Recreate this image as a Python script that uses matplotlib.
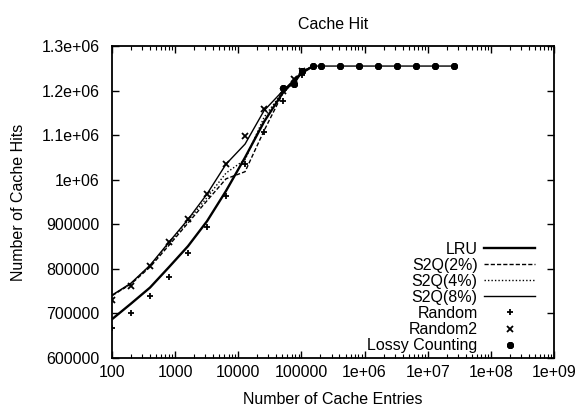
import matplotlib
matplotlib.use("Agg")
import matplotlib.pyplot as plt
from matplotlib.ticker import FixedLocator, LogLocator, NullFormatter

plt.rcParams['font.family'] = ['Liberation Sans', 'DejaVu Sans']

# ---- data ----
entries = [100, 200, 400, 800, 1600, 3200, 6400, 12800, 25600, 51200, 102400, 153600]
lru     = [687000, 722000, 758000, 804000, 851000, 907000, 975000, 1050000, 1130000, 1196000, 1240000, 1255000]
s2q2    = [740000, 766000, 804000, 853000, 903000, 953000, 1002000, 1018000, 1110000, 1195000, 1240000, 1255000]
s2q4    = [740000, 767000, 807000, 857000, 908000, 960000, 1015000, 1045000, 1140000, 1198000, 1240000, 1255000]
s2q8    = [741000, 768000, 808000, 860000, 911000, 968000, 1035000, 1080000, 1155000, 1200000, 1242000, 1255000]

rand_x  = [100, 200, 400, 800, 1600, 3200, 6400, 12800, 25600, 51200, 76800, 102400]
random1 = [667000, 702000, 738000, 782000, 835000, 894000, 963000, 1036000, 1108000, 1177000, 1217000, 1235000]
random2 = [730000, 762000, 806000, 860000, 911000, 969000, 1035000, 1099000, 1159000, 1200000, 1225000, 1245000]

lossy_x = [51200, 76800, 102400, 153600, 204800, 409600, 819200, 1638400, 3276800,
           6553600, 13107200, 26214400]
lossy_y = [1205000, 1214000, 1243000, 1255000, 1255000, 1255000, 1255000, 1255000, 1255000,
           1255000, 1255000, 1255000]

xticks = [1e2, 1e3, 1e4, 1e5, 1e6, 1e7, 1e8, 1e9]
xticklabels = ['100', '1000', '10000', '100000', '1e+06', '1e+07', '1e+08', '1e+09']
yticks = [600000, 700000, 800000, 900000, 1000000, 1100000, 1200000, 1300000]
yticklabels = ['600000', '700000', '800000', '900000', '1e+06', '1.1e+06', '1.2e+06', '1.3e+06']

fs = 11.5
fig = plt.figure(figsize=(5.8, 4.08), dpi=100)
ax = fig.add_axes([112/580, 1-358/408, (554-112)/580, (358-46)/408])

ax.plot(entries, lru, color='black', lw=1.7, ls='-', label='LRU')
ax.plot(entries, s2q2, color='black', lw=1.0, ls=(0, (3, 1.5)), label='S2Q(2%)')
ax.plot(entries, s2q4, color='black', lw=1.0, ls=(0, (1, 1.5)), label='S2Q(4%)')
ax.plot(entries, s2q8, color='black', lw=1.0, ls='-', label='S2Q(8%)')
ax.plot(rand_x, random1, ls='none', marker='+', ms=5, mew=1.3, color='black', label='Random')
ax.plot(rand_x, random2, ls='none', marker='x', ms=4.5, mew=1.3, color='black', label='Random2')
ax.plot(lossy_x, lossy_y, color='black', lw=1.0, label='_nolegend_')
ax.plot(lossy_x, lossy_y, ls='none', color='black', marker=(8, 2, 0), ms=5, mew=1.4,
        label='Lossy Counting')

ax.set_xscale('log')
ax.set_xlim(1e2, 1e9)
ax.set_ylim(600000, 1300000)
ax.xaxis.set_major_locator(FixedLocator(xticks))
ax.set_xticklabels(xticklabels)
ax.xaxis.set_minor_locator(LogLocator(base=10, subs=range(2, 10), numticks=20))
ax.xaxis.set_minor_formatter(NullFormatter())
ax.set_yticks(yticks)
ax.set_yticklabels(yticklabels)

ax.tick_params(which='both', direction='in', top=True, right=True, labelsize=fs, colors='black')
ax.tick_params(which='major', length=5, width=1)
ax.tick_params(axis='x', which='major', pad=5)
ax.tick_params(axis='y', which='major', pad=9)
ax.tick_params(which='minor', length=3, width=0.8)
for s in ax.spines.values():
    s.set_linewidth(1.3)
    s.set_color('black')

ax.set_title('Cache Hit', fontsize=fs, pad=12)
ax.set_xlabel('Number of Cache Entries', fontsize=fs, labelpad=9)
ax.set_ylabel('Number of Cache Hits', fontsize=fs, labelpad=11)

leg = ax.legend(loc='lower right', bbox_to_anchor=(1 - 14/442, 0.0), frameon=False,
                markerfirst=False, fontsize=fs,
                handlelength=3.2, handletextpad=0.4, labelspacing=0.07,
                borderaxespad=0.1, borderpad=0.2)

fig.savefig('out.png', dpi=100)
